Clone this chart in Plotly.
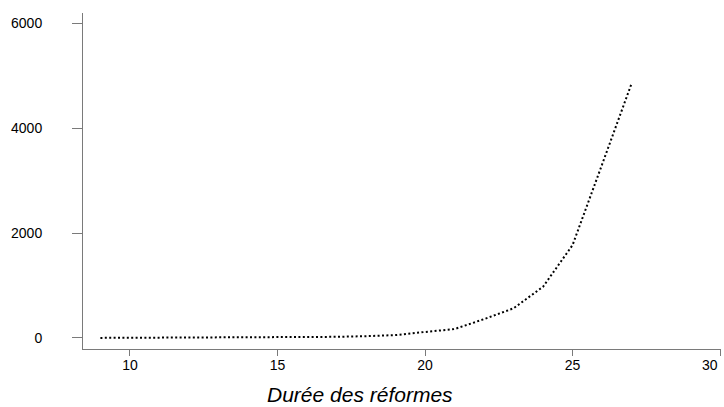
import plotly.graph_objects as go

# Data
duree = [9, 10, 11, 12, 13, 14, 15, 16, 17, 18, 19, 20, 21, 22, 23, 24, 25, 26, 27]
valeurs = [2, 3, 4, 5, 7, 9, 12, 16, 22, 35, 55, 115, 170, 360, 566, 978, 1773, 3310, 4856]

x_ticks = [10, 15, 20, 25, 30]
y_ticks = [0, 2000, 4000, 6000]
x_title = "Durée des réformes"

AXIS_COLOR = "#7a7a7a"
FONT = "Liberation Sans, Arial, sans-serif"

fig = go.Figure()
fig.add_trace(go.Scatter(
    x=duree, y=valeurs, mode="lines",
    line=dict(color="black", width=2, dash="2px,2.4px"),
    showlegend=False, hoverinfo="skip",
))

fig.update_layout(
    width=724, height=407,
    margin=dict(l=83, r=3, t=13, b=58),
    paper_bgcolor="white", plot_bgcolor="white",
    font=dict(family=FONT, size=14, color="black"),
    showlegend=False,
)

# last x tick label is drawn as an annotation, right-aligned so it stays inside the page
x_ticktext = [str(v) for v in x_ticks[:-1]] + [""]

fig.update_xaxes(
    range=[8.41, 30.03], tickvals=x_ticks, ticktext=x_ticktext,
    showgrid=False, zeroline=False,
    showline=True, linecolor=AXIS_COLOR, linewidth=1,
    ticks="outside", ticklen=6, tickcolor=AXIS_COLOR, tickwidth=1,
    tickfont=dict(family=FONT, size=14, color="black"),
    ticklabelstandoff=-3,
)
fig.update_yaxes(
    range=[-210, 6200], tickvals=y_ticks, ticktext=[str(v) for v in y_ticks],
    showgrid=False, zeroline=False,
    showline=True, linecolor=AXIS_COLOR, linewidth=1,
    ticks="outside", ticklen=10, tickcolor=AXIS_COLOR, tickwidth=1,
    tickfont=dict(family=FONT, size=14, color="black"),
    ticklabelstandoff=27,
)

fig.add_annotation(
    text=str(x_ticks[-1]), xref="x", yref="paper",
    x=x_ticks[-1], y=0, xanchor="right", yanchor="top", yshift=-6,
    showarrow=False, font=dict(family=FONT, size=14, color="black"),
)

fig.add_annotation(
    text=x_title, xref="paper", yref="paper",
    x=(360 - 83) / 638, y=(349 - 394.5) / 336,
    xanchor="center", yanchor="middle", showarrow=False,
    font=dict(family=FONT, size=21, color="black", style="italic"),
)

fig.write_html(
    "out.html",
    config={"displayModeBar": False},
    post_script="document.body.style.margin='0';",
)
